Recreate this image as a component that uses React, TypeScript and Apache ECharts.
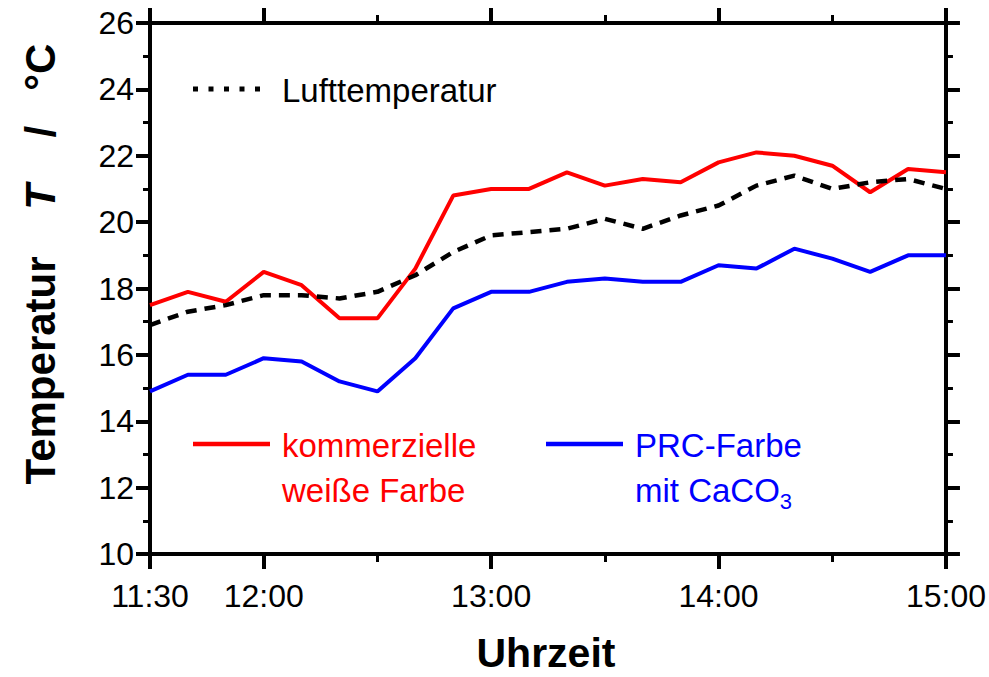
import React, { useEffect, useRef } from "react";
import * as echarts from "echarts";

const times = ["11:30","11:40","11:50","12:00","12:10","12:20","12:30","12:40","12:50","13:00","13:10","13:20","13:30","13:40","13:50","14:00","14:10","14:20","14:30","14:40","14:50","15:00"];
const kommerziell = [17.5,17.9,17.6,18.5,18.1,17.1,17.1,18.6,20.8,21.0,21.0,21.5,21.1,21.3,21.2,21.8,22.1,22.0,21.7,20.9,21.6,21.5];
const prcFarbe = [14.9,15.4,15.4,15.9,15.8,15.2,14.9,15.9,17.4,17.9,17.9,18.2,18.3,18.2,18.2,18.7,18.6,19.2,18.9,18.5,19.0,19.0];
const luft = [16.9,17.3,17.5,17.8,17.8,17.7,17.9,18.4,19.1,19.6,19.7,19.8,20.1,19.8,20.2,20.5,21.1,21.4,21.0,21.2,21.3,21.0];
const majorTimeTicks = ["11:30","12:00","13:00","14:00","15:00"];
const minorTimeTicks = ["12:30","13:30","14:30"];
const yMin = 10, yMax = 26, yStep = 2;

const FONT = "'Liberation Sans', Arial, sans-serif";
const toMin = (s: string) => { const [h, m] = s.split(":").map(Number); return h * 60 + m; };
const fmt = (v: number) => `${Math.floor(v / 60)}:${String(Math.round(v % 60)).padStart(2, "0")}`;

export default function App() {
  const ref = useRef<HTMLDivElement>(null);
  useEffect(() => {
    if (!ref.current) return;
    const chart = echarts.init(ref.current, undefined, { renderer: "svg" });
    const xMin = toMin(times[0]);
    const xMax = toMin(times[times.length - 1]);
    const major = majorTimeTicks.map(toMin);
    const minor = minorTimeTicks.map(toMin);
    const pair = (arr: number[]) => arr.map((v, i) => [toMin(times[i]), v]);
    const axisLine = { show: true, onZero: false, lineStyle: { color: "#000", width: 4 } };
    const mkX = (position: string, showLabel: boolean, ticks: number[], len: number, w: number, line: boolean) => ({
      type: "value", position, min: xMin, max: xMax, gridIndex: 0,
      splitLine: { show: false },
      axisLine: line ? axisLine : { show: false },
      axisTick: { show: true, customValues: ticks, length: len, inside: false, lineStyle: { color: "#000", width: w } },
      axisLabel: showLabel ? { show: true, customValues: major, formatter: (v: number) => fmt(v), fontSize: 32, color: "#000", fontFamily: FONT, margin: 26 } : { show: false },
    });
    const mkY = (position: string, showLabel: boolean) => ({
      type: "value", position, min: yMin, max: yMax, interval: yStep,
      splitLine: { show: false },
      axisLine,
      axisTick: { show: true, length: 14, inside: false, lineStyle: { color: "#000", width: 4 } },
      minorTick: { show: true, splitNumber: 2, length: 7, lineStyle: { color: "#000", width: 3 } },
      minorSplitLine: { show: false },
      axisLabel: showLabel ? { show: true, fontSize: 32, color: "#000", fontFamily: FONT, margin: 16 } : { show: false },
    });
    chart.setOption({
      animation: false,
      grid: { left: 150, right: 43, top: 23, bottom: 123 },
      xAxis: [
        mkX("bottom", true, major, 15, 4, true),
        mkX("top", false, major, 15, 4, true),
        mkX("bottom", false, minor, 8, 3, false),
        mkX("top", false, minor, 8, 3, false),
      ],
      yAxis: [mkY("left", true), mkY("right", false)],
      series: [
        { type: "line", data: pair(prcFarbe), showSymbol: false, lineStyle: { color: "#0000ff", width: 4 }, xAxisIndex: 0, yAxisIndex: 0 },
        { type: "line", data: pair(kommerziell), showSymbol: false, lineStyle: { color: "#ff0000", width: 4 }, xAxisIndex: 0, yAxisIndex: 0 },
        { type: "line", data: pair(luft), showSymbol: false, lineStyle: { color: "#000", width: 4.5, type: [11, 8] }, xAxisIndex: 0, yAxisIndex: 0 },
      ],
      graphic: [
        { type: "line", shape: { x1: 193, y1: 89, x2: 262, y2: 89 }, style: { stroke: "#000", lineWidth: 5, lineDash: [5, 10.5] } },
        { type: "text", x: 282, y: 90, style: { text: "Lufttemperatur", fill: "#000", font: `33px ${FONT}`, verticalAlign: "middle" } },
        { type: "line", shape: { x1: 193, y1: 444, x2: 270, y2: 444 }, style: { stroke: "#ff0000", lineWidth: 4.5 } },
        { type: "text", x: 282, y: 445, style: { text: "kommerzielle", fill: "#ff0000", font: `33px ${FONT}`, verticalAlign: "middle" } },
        { type: "text", x: 282, y: 490, style: { text: "weiße Farbe", fill: "#ff0000", font: `33px ${FONT}`, verticalAlign: "middle" } },
        { type: "line", shape: { x1: 546, y1: 444, x2: 623, y2: 444 }, style: { stroke: "#0000ff", lineWidth: 4.5 } },
        { type: "text", x: 635, y: 445, style: { text: "PRC-Farbe", fill: "#0000ff", font: `33px ${FONT}`, verticalAlign: "middle" } },
        { type: "text", x: 635, y: 490, style: { text: "{a|mit CaCO}{s|3}", fill: "#0000ff", verticalAlign: "middle",
            rich: { a: { fontSize: 33, fontFamily: FONT, fill: "#0000ff", lineHeight: 44 }, s: { fontSize: 22, fontFamily: FONT, fill: "#0000ff", verticalAlign: "bottom", lineHeight: 22 } } } },
        { type: "text", x: 546, y: 653, style: { text: "Uhrzeit", fill: "#000", font: `bold 41px ${FONT}`, align: "center", verticalAlign: "middle" } },
        { type: "text", x: 40, y: 264, rotation: Math.PI / 2, style: { text: "{b|Temperatur    }{i|T}{b|    /   °C}", align: "center", verticalAlign: "middle",
            rich: { b: { fontSize: 42, fontWeight: "bold", fontFamily: FONT, fill: "#000" }, i: { fontSize: 42, fontWeight: "bold", fontStyle: "italic", fontFamily: FONT, fill: "#000" } } } },
      ],
    });
    return () => chart.dispose();
  }, []);
  return <div ref={ref} style={{ position: "fixed", left: 0, top: 0, width: 989, height: 677, background: "#fff" }} />;
}
